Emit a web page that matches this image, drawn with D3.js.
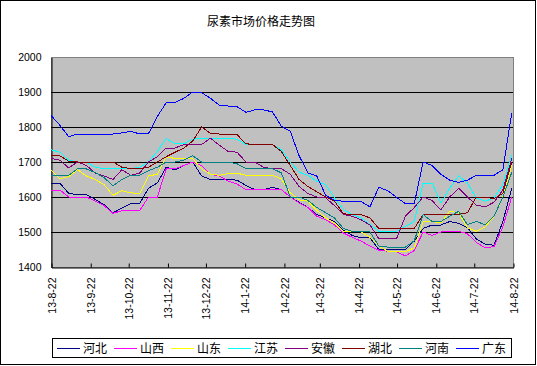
<!DOCTYPE html>
<html><head><meta charset="utf-8">
<script src="https://cdnjs.cloudflare.com/ajax/libs/d3/7.8.5/d3.min.js"></script>
<style>
html,body{margin:0;padding:0;background:#fff;}
svg{display:block;}
</style></head>
<body>
<svg id="chart" width="537" height="366"></svg>
<script>
const title = "尿素市场价格走势图";
const seriesNames = ["河北","山西","山东","江苏","安徽","湖北","河南","广东"];
const seriesColors = ["#000080","#FF00FF","#FFFF00","#00FFFF","#800080","#800000","#008080","#0000FF"];
const startDate = "2013-08-22";
const weekCount = 53;
const yTicks = [1400,1500,1600,1700,1800,1900,2000];

const hebei = [1640,1640,1610,1607,1607,1593,1578,1555,1568,1581,1581,
 1625,1640,1685,1678,1690,1700,1660,1650,1650,1650,
 1648,1633,1621,1621,1628,1621,1600,1585,1570,1550,
 1540,1530,1505,1490,1483,1483,1450,1450,1450,1450,
 1474,1510,1520,1520,1530,1525,1513,1480,1465,1462,1530,1625];
const shanxi = [1620,1620,1600,1600,1600,1588,1575,1553,1561,1561,1561,
 1600,1600,1680,1681,1690,1700,1690,1665,1660,1645,
 1637,1621,1621,1621,1621,1621,1600,1583,1570,1545,
 1535,1520,1497,1485,1474,1460,1448,1445,1443,1432,
 1447,1500,1490,1500,1502,1502,1495,1470,1455,1458,1515,1600];
const shandong = [1678,1652,1658,1678,1660,1650,1635,1605,1618,1612,1610,
 1660,1665,1715,1710,1710,1710,1680,1665,1662,1667,
 1668,1662,1662,1662,1662,1652,1612,1592,1588,1562,
 1540,1525,1502,1502,1500,1485,1460,1445,1443,1443,
 1455,1530,1530,1526,1559,1555,1512,1502,1515,1545,1600,1690];
const jiangsu = [1735,1728,1705,1700,1700,1685,1681,1681,1681,1681,1685,
 1700,1730,1767,1752,1752,1765,1768,1768,1768,1768,
 1765,1750,1750,1750,1750,1735,1700,1671,1662,1645,
 1635,1597,1564,1550,1540,1521,1502,1502,1502,1516,
 1530,1640,1640,1583,1625,1660,1640,1597,1588,1597,1635,1720];
const anhui = [1710,1705,1683,1700,1690,1668,1660,1650,1678,1662,1668,
 1700,1715,1740,1740,1750,1750,1750,1768,1748,1730,
 1728,1700,1700,1685,1681,1681,1665,1630,1610,1600,
 1598,1575,1550,1545,1535,1520,1481,1481,1481,1545,1570,
 1600,1590,1563,1600,1625,1600,1577,1572,1585,1620,1710];
const hubei = [1720,1718,1702,1700,1700,1700,1700,1700,1685,1681,1681,
 1685,1700,1715,1728,1740,1760,1800,1782,1780,1780,
 1778,1752,1750,1750,1750,1730,1690,1650,1630,1615,
 1600,1588,1552,1550,1550,1540,1510,1510,1510,1510,
 1510,1550,1550,1550,1550,1550,1555,1600,1600,1595,1610,1700];
const henan = [1662,1662,1662,1681,1680,1670,1655,1632,1650,1662,1662,
 1675,1685,1700,1700,1705,1718,1700,1700,1700,1700,
 1695,1681,1681,1681,1681,1669,1600,1600,1590,1570,
 1555,1540,1510,1502,1502,1500,1460,1457,1457,1457,
 1475,1550,1530,1530,1545,1559,1521,1530,1521,1545,1600,1670];
const guangdong = [1833,1805,1772,1780,1780,1780,1780,1780,1783,1788,1780,
 1781,1830,1869,1870,1882,1900,1898,1882,1862,1860,
 1858,1842,1849,1849,1843,1802,1788,1718,1669,1660,
 1605,1590,1588,1588,1587,1572,1628,1618,1599,1581,
 1581,1700,1690,1665,1648,1642,1648,1662,1662,1662,1678,1840];
const seriesValues = [hebei,shanxi,shandong,jiangsu,anhui,hubei,henan,guangdong];

const parse = d3.timeParse("%Y-%m-%d");
const d0 = parse(startDate);
const dates = d3.range(weekCount).map(i => d3.timeDay.offset(d0, i*7));
const axisEnd = parse("2014-08-22");

const svg = d3.select("#chart");
const L = 51, R = 513, T = 57, B = 267;

svg.append("rect").attr("x",0.5).attr("y",0.5).attr("width",535).attr("height",364)
  .attr("fill","#fff").attr("stroke","#000");

svg.append("text").attr("x",261).attr("y",26).attr("text-anchor","middle")
  .attr("font-family","'Noto Sans CJK SC', sans-serif").attr("font-size",12)
  .text(title);

const x = d3.scaleTime().domain([d0, axisEnd]).range([L, R]);
const y = d3.scaleLinear().domain([1400,2000]).range([B, T]);

svg.append("rect").attr("x",L+0.5).attr("y",T+0.5).attr("width",R-L).attr("height",B-T)
  .attr("fill","#C0C0C0").attr("stroke","#808080");

// gridlines
svg.append("g").selectAll("line").data(yTicks.filter(v=>v>1400 && v<2000)).join("line")
  .attr("x1",L).attr("x2",R).attr("y1",d=>Math.round(y(d))+0.5).attr("y2",d=>Math.round(y(d))+0.5)
  .attr("stroke","#000");

// y axis
const yAxis = d3.axisLeft(y).tickValues(yTicks).tickSize(0).tickPadding(10).tickFormat(d3.format("d"));
const gy = svg.append("g").attr("transform",`translate(${L+0.5},0.5)`).call(yAxis);
gy.select(".domain").attr("stroke","#000");
gy.selectAll("text").attr("font-family","'Liberation Sans', Arial, sans-serif").attr("font-size",10.5).attr("fill","#000");

// x axis
const monthTicks = d3.range(13).map(i => d3.timeMonth.offset(d0, i));
const fmt = d => d3.timeFormat("%y")(d) + "-" + (d.getMonth()+1) + "-" + d.getDate();
const xAxis = d3.axisBottom(x).tickValues(monthTicks).tickSize(-4).tickFormat(fmt).tickSizeOuter(0);
const gx = svg.append("g").attr("transform",`translate(0.5,${B+0.5})`).call(xAxis);
gx.select(".domain").attr("stroke","#000");
gx.selectAll(".tick line").attr("stroke","#000");
gx.selectAll("text")
  .attr("font-family","'Liberation Sans', Arial, sans-serif").attr("font-size",10.5).attr("fill","#000")
  .attr("text-anchor","end").attr("transform","translate(0,10) rotate(-90)")
  .attr("x",0).attr("y",0).attr("dy","0.35em");

// lines
const line = d3.line().x((d,i)=>x(dates[i])).y(d=>y(d));
svg.append("g").selectAll("path").data(seriesValues).join("path")
  .attr("d", d => line(d)).attr("fill","none")
  .attr("stroke",(d,i)=>seriesColors[i]).attr("stroke-width",1)
  .attr("shape-rendering","crispEdges");

// legend
svg.append("rect").attr("x",52.5).attr("y",338.5).attr("width",459).attr("height",19)
  .attr("fill","#fff").attr("stroke","#000");
const lg = svg.append("g").selectAll("g").data(seriesNames).join("g")
  .attr("transform",(d,i)=>`translate(${57+i*57},348)`);
lg.append("line").attr("x1",0).attr("x2",23).attr("y1",0.5).attr("y2",0.5)
  .attr("stroke",(d,i)=>seriesColors[i]);
lg.append("text").attr("x",26).attr("y",0).attr("dy","0.38em")
  .attr("font-family","'Noto Sans CJK SC', sans-serif").attr("font-size",12)
  .text(d=>d);
</script>
</body></html>
